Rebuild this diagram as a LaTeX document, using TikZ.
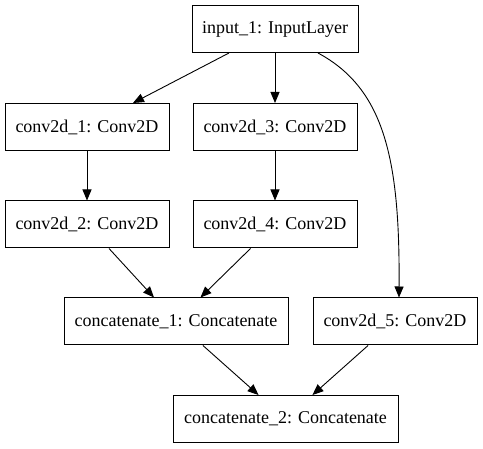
\documentclass[tikz,border=0pt]{standalone}
\usepackage{fontspec}
\setmainfont{Liberation Serif}
\usepackage{tikz}
\usetikzlibrary{arrows.meta, calc}
\tikzset{
	gv/.tip={Triangle[length=11pt, width=9pt]},
	% layer box, argument is the box width
	layer/.style={
		draw, line width=1pt, rectangle,
		minimum width=#1, minimum height=47pt,
		inner sep=0pt, font=\fontsize{18}{20}\selectfont
	},
	layer/.default=164pt,
	edge/.style={-gv, line width=0.9pt}
}

\begin{document}
\begin{tikzpicture}[x=1pt, y=-1pt]
		\useasboundingbox (0,0) rectangle (483,449);
		
		% Layers
		\node[layer=166pt] (input_1) at (275, 29) {input\_1: InputLayer};
		\node[layer] (conv2d_1) at (87, 127) {conv2d\_1: Conv2D};
		\node[layer] (conv2d_3) at (275, 127) {conv2d\_3: Conv2D};
		\node[layer] (conv2d_2) at (87, 224.5) {conv2d\_2: Conv2D};
		\node[layer] (conv2d_4) at (275, 224.5) {conv2d\_4: Conv2D};
		\node[layer=224pt] (concatenate_1) at (176, 321.5) {concatenate\_1: Concatenate};
		\node[layer] (conv2d_5) at (395, 321.5) {conv2d\_5: Conv2D};
		\node[layer=225pt] (concatenate_2) at (285.5, 419) {concatenate\_2: Concatenate};
		
		% Edges
		\draw[edge] (input_1) -- (conv2d_1);
		\draw[edge] (input_1) -- (conv2d_3);
		\draw[edge] ($(input_1.south)+(43,0)$) .. controls +(67,36) and +(1,-137) .. ([xshift=4pt]conv2d_5.north);
		\foreach \a/\b in {conv2d_1/conv2d_2, conv2d_3/conv2d_4, conv2d_2/concatenate_1, conv2d_4/concatenate_1, concatenate_1/concatenate_2, conv2d_5/concatenate_2}{
			\draw[edge] (\a) -- (\b);
		}
	\end{tikzpicture}
\end{document}
